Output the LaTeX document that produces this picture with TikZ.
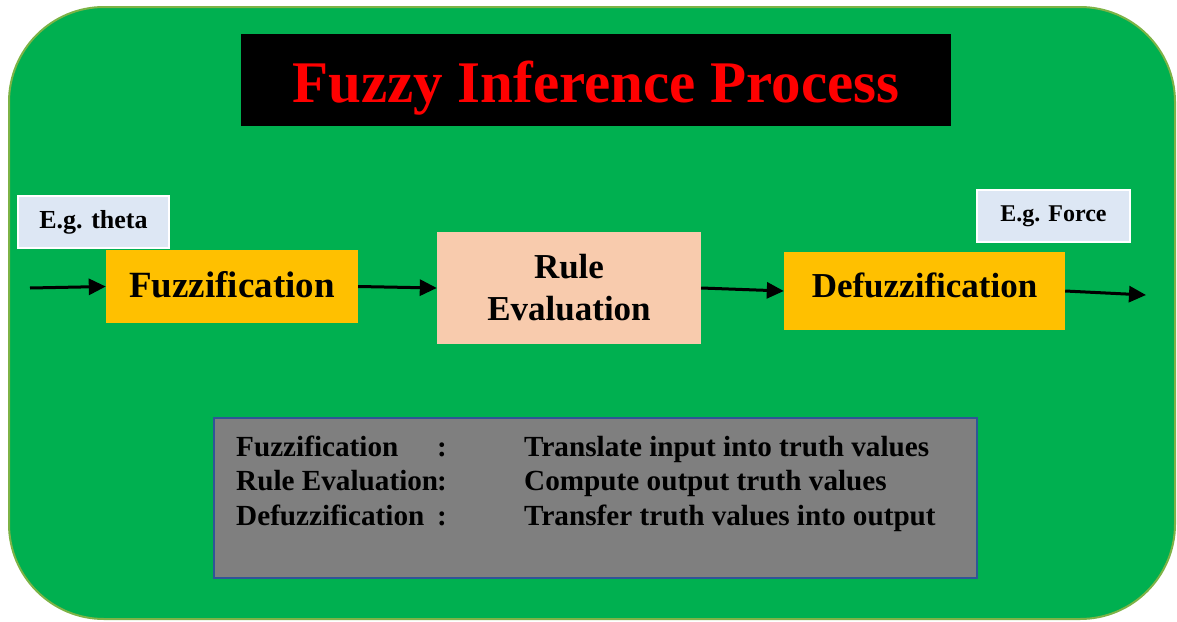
\documentclass[tikz,border=0pt]{standalone}
\usepackage{fontspec}
\setmainfont{Liberation Serif}
\usetikzlibrary{arrows.meta}

\definecolor{panelgreen}{HTML}{00B050}
\definecolor{panelrim}{HTML}{7DB346}
\definecolor{titlered}{HTML}{FF0000}
\definecolor{notebluegray}{HTML}{DDE7F4}
\definecolor{stageyellow}{HTML}{FFC000}
\definecolor{stagepeach}{HTML}{F8CBAD}
\definecolor{legendgray}{HTML}{7F7F7F}
\definecolor{legendrim}{HTML}{2F5597}

\tikzset{
  panel/.style={rectangle, fill=panelgreen, draw=panelrim, line width=2pt,
    rounded corners=95pt, inner sep=0pt},
  titlebar/.style={rectangle, fill=black, inner sep=0pt},
  titletext/.style={text=titlered, font=\bfseries\fontsize{59}{70}\selectfont, inner sep=0pt},
  stagebox/.style={rectangle, inner sep=0pt, align=center,
    font=\bfseries\fontsize{36}{42}\selectfont},
  notebox/.style={rectangle, fill=notebluegray, draw=white, line width=1.5pt, inner sep=0pt},
  legendbox/.style={rectangle, fill=legendgray, draw=legendrim, line width=2.5pt, inner sep=0pt},
  legendtext/.style={anchor=base west, inner sep=0pt, font=\bfseries\fontsize{29.2}{35}\selectfont},
  flow/.style={line width=3pt, -{Triangle[length=17pt,width=16pt]}}
}

\newcommand{\legendterm}[1]{\makebox[201pt][l]{#1}:}

\begin{document}
\begin{tikzpicture}[x=1pt,y=-1pt]
  \useasboundingbox (0,0) rectangle (1177,621);

  % background panel
  \node[panel, minimum width=1166pt, minimum height=612pt] (panel) at (592,313) {};

  % title
  \node[titlebar, minimum width=710pt, minimum height=92pt] (titlebar) at (596,80) {};
  \node[titletext, anchor=base] (title) at (596,102) {Fuzzy Inference Process};

  % example notes
  \node[notebox, minimum width=151pt, minimum height=52pt,
        font=\bfseries\fontsize{26}{30}\selectfont] (theta) at (93.5,222) {E.g. theta};
  \node[notebox, minimum width=153pt, minimum height=52pt,
        font=\bfseries\fontsize{24}{28}\selectfont] (force) at (1053.5,216) {E.g. Force};

  % processing stages
  \node[stagebox, fill=stageyellow, minimum width=252pt, minimum height=73pt,
        font=\bfseries\fontsize{37}{42}\selectfont,
        text height=21pt, text depth=0pt] (fuzz) at (232,286.5) {Fuzzification};
  \node[stagebox, fill=stagepeach, minimum width=264pt, minimum height=112pt,
        font=\bfseries\fontsize{35}{42}\selectfont] (rule) at (569,288) {Rule\\Evaluation};
  \node[stagebox, fill=stageyellow, minimum width=281pt, minimum height=78pt,
        font=\bfseries\fontsize{35}{42}\selectfont,
        text height=12pt, text depth=0pt] (defuzz) at (924.5,291) {Defuzzification};

  % signal flow
  \coordinate (in) at (30,288);
  \coordinate (out) at (1146,295);
  \draw[flow] (in) -- (fuzz.west);
  \draw[flow] (fuzz.east) -- (rule.west);
  \draw[flow] (rule.east) -- (defuzz.west);
  \draw[flow] (defuzz.east) -- (out);

  % legend
  \node[legendbox, minimum width=763pt, minimum height=160pt] (legend) at (595.5,498) {};
  \node[legendtext] (k1) at (236,456) {\legendterm{Fuzzification\hphantom{n}}};
  \node[legendtext] (k2) at (236,490.5) {\legendterm{Rule Evaluation}};
  \node[legendtext] (k3) at (236,525) {\legendterm{Defuzzification}};
  \node[legendtext] (v1) at (524,456) {Translate input into truth values};
  \node[legendtext] (v2) at (524,490.5) {Compute output truth values};
  \node[legendtext] (v3) at (524,525) {Transfer truth values into output};
\end{tikzpicture}
\end{document}
